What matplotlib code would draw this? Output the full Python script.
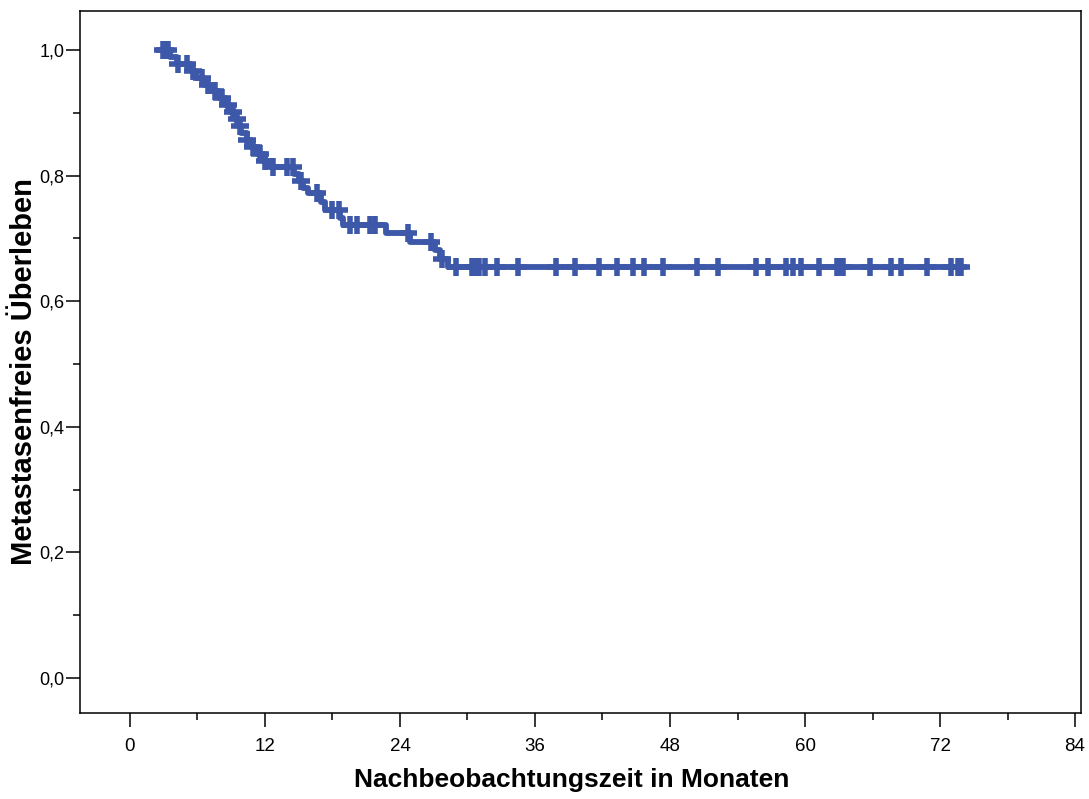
import numpy as np
import matplotlib.pyplot as plt
from matplotlib.ticker import MultipleLocator, FuncFormatter

# Kaplan-Meier step values (months, survival after step)
event_months = [3.6, 4.2, 5.4, 5.9, 6.6, 7.2, 7.9, 8.5, 8.9, 9.3, 9.6, 9.9,
                10.4, 10.8, 11.4, 12.0, 12.5, 14.6, 15.0, 15.4, 15.8, 17.0,
                17.3, 18.7, 18.9, 22.8, 24.9, 27.1, 27.6, 28.3]
surv = [0.989, 0.978, 0.967, 0.956, 0.945, 0.934, 0.923, 0.912, 0.901, 0.890,
        0.879, 0.868, 0.857, 0.846, 0.835, 0.824, 0.813, 0.802, 0.791, 0.781,
        0.772, 0.758, 0.746, 0.733, 0.721, 0.709, 0.695, 0.681, 0.667, 0.654]

# censored observations (months)
censor_months = [2.9, 3.1, 3.4, 4.3, 5.1, 5.6, 6.4, 6.9, 7.6, 8.2, 8.7, 9.2,
                 9.5, 9.8, 10.4, 10.9, 11.6, 12.0, 12.7, 14.0, 14.5, 15.2,
                 16.6, 18.0, 18.6, 19.6, 20.2, 21.3, 21.8, 24.7, 26.8, 27.7,
                 29.0, 30.4, 30.7, 31.0, 31.6, 32.6, 34.5, 37.9, 39.6, 41.7,
                 43.3, 44.7, 45.7, 47.4, 50.4, 52.3, 55.6, 56.7, 58.3, 58.9,
                 59.6, 61.2, 62.8, 63.1, 63.4, 65.8, 67.6, 68.5, 70.8, 73.0,
                 73.6, 73.9]

x_ticks = [0, 12, 24, 36, 48, 60, 72, 84]
y_ticks = [0.0, 0.2, 0.4, 0.6, 0.8, 1.0]

BLUE = "#3e58a9"
NARROW = ["Liberation Sans Narrow", "DejaVu Sans Condensed", "Liberation Sans"]
ARIAL = ["Liberation Sans", "DejaVu Sans"]

t0, t_end = censor_months[0], censor_months[-1]
xs = [t0] + event_months + [t_end]
ys = [1.0] + surv + [surv[-1]]

ev = np.array(event_months)
sv = np.array([1.0] + surv)
cens_y = sv[np.searchsorted(ev, censor_months, side="right")]

fig = plt.figure(figsize=(10.89, 7.99), dpi=100)
ax = fig.add_axes([80 / 1089, 1 - 713 / 799, 1001 / 1089, 702 / 799])

ax.plot(xs, ys, drawstyle="steps-post", color=BLUE, lw=4.2)
ax.plot(censor_months, cens_y, ls="none", marker="+", ms=13, mew=4, color=BLUE)

ax.set_xlim(-4.44, 84.53)
ax.set_ylim(-0.0557, 1.0621)

ax.set_xticks(x_ticks)
ax.xaxis.set_minor_locator(MultipleLocator(6))
ax.set_yticks(y_ticks)
ax.yaxis.set_minor_locator(MultipleLocator(0.1))
ax.yaxis.set_major_formatter(FuncFormatter(lambda v, p: f"{v:.1f}".replace(".", ",")))

ax.tick_params(axis="both", which="major", length=10, width=1.1, direction="out")
ax.tick_params(axis="both", which="minor", length=5, width=1.1, direction="out")
ax.tick_params(axis="x", which="major", pad=8)
ax.tick_params(axis="y", which="major", pad=1)
for lab in ax.get_xticklabels():
    lab.set_family(NARROW)
    lab.set_fontsize(13.5)
for lab in ax.get_yticklabels():
    lab.set_family(ARIAL)
    lab.set_fontsize(13)

for sp in ax.spines.values():
    sp.set_linewidth(1.1)

ax.set_xlabel("Nachbeobachtungszeit in Monaten", family=NARROW,
              fontweight="bold", fontsize=19)
ax.set_ylabel("Metastasenfreies Überleben", family=ARIAL,
              fontweight="bold", fontsize=21)
ax.xaxis.set_label_coords((572 - 80) / 1001, -(780 - 713) / 702)
ax.yaxis.set_label_coords(-(80 - 24) / 1001, (713 - 372) / 702)
ax.xaxis.label.set_va("center")
ax.yaxis.label.set_va("center")

fig.savefig("out.png", dpi=100)
plt.close(fig)
